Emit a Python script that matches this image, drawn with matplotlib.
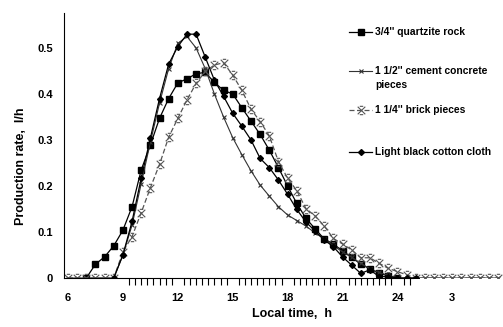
#!/usr/bin/env python3
# production rate of the solar still for different energy storing materials
import numpy as np
import matplotlib.pyplot as plt
from matplotlib.path import Path
from matplotlib.lines import Line2D

plt.rcParams['font.family'] = ['Liberation Sans', 'DejaVu Sans']
plt.rcParams['font.weight'] = 'bold'

# hours of the day, 27 = 3 am next day
t_full = [6 + 0.5 * k for k in range(48)]

# 3/4" quartzite rock, from 7 h to 24 h
t_quartz = t_full[2:37]
quartz = [0, 0.03, 0.046, 0.07, 0.104, 0.155, 0.235, 0.289, 0.347, 0.39,
          0.424, 0.433, 0.444, 0.447, 0.425, 0.408, 0.4, 0.37, 0.341, 0.312,
          0.278, 0.24, 0.2, 0.162, 0.13, 0.107, 0.085, 0.074, 0.059, 0.045,
          0.03, 0.02, 0.01, 0.005, 0]

# 1 1/2" cement concrete pieces, 6 h to 5:30 h
cement = [0, 0, 0, 0, 0, 0, 0.05, 0.115, 0.205, 0.295,
          0.38, 0.455, 0.51, 0.525, 0.5, 0.455, 0.4, 0.35, 0.305, 0.268,
          0.233, 0.202, 0.178, 0.155, 0.137, 0.125, 0.113, 0.098, 0.085, 0.07,
          0.057, 0.045, 0.032, 0.02, 0.012, 0.006, 0, 0, 0, 0,
          0, 0, 0, 0, 0, 0, 0, 0]

# 1 1/4" brick pieces
brick = [0, 0, 0, 0, 0, 0, 0.057, 0.09, 0.142, 0.196,
         0.247, 0.306, 0.347, 0.387, 0.423, 0.449, 0.463, 0.468, 0.441, 0.408,
         0.367, 0.34, 0.309, 0.253, 0.217, 0.19, 0.151, 0.135, 0.113, 0.086,
         0.074, 0.061, 0.044, 0.044, 0.032, 0.021, 0.014, 0.007, 0, 0,
         0, 0, 0, 0, 0, 0, 0, 0]

# light black cotton cloth, 8:30 h to 25 h
t_cloth = t_full[5:39]
cloth = [0, 0.05, 0.123, 0.217, 0.304, 0.39, 0.465, 0.503, 0.53, 0.53,
         0.48, 0.43, 0.395, 0.358, 0.33, 0.3, 0.26, 0.24, 0.213, 0.182,
         0.149, 0.122, 0.102, 0.083, 0.068, 0.046, 0.028, 0.01, 0.018, 0.003,
         0.003, 0, 0, 0]

labels = ["3/4'' quartzite rock", "1 1/2'' cement concrete\npieces",
          "1 1/4'' brick pieces", "Light black cotton cloth"]
xtick_pos = [6, 9, 12, 15, 18, 21, 24, 27]
xtick_lab = ['6', '9', '12', '15', '18', '21', '24', '3']
ytick_pos = [0, 0.1, 0.2, 0.3, 0.4, 0.5]
ytick_lab = ['0', '0.1', '0.2', '0.3', '0.4', '0.5']

# x with short bars above and below, like the excel star marker
star = Path([(-1, -1), (1, 1), (-1, 1), (1, -1), (-0.45, 1.1), (0.45, 1.1), (-0.45, -1.1), (0.45, -1.1)],
            [Path.MOVETO, Path.LINETO, Path.MOVETO, Path.LINETO,
             Path.MOVETO, Path.LINETO, Path.MOVETO, Path.LINETO])

fig = plt.figure(figsize=(5.03, 3.27), dpi=100)
ax = fig.add_axes([0.1272, 0.1498, 0.8728, 0.8104])

styles = [
    dict(color='black', lw=0.9, marker='s', ms=3.8, mfc='black', mec='black'),
    dict(color='#333333', lw=0.8, marker='x', ms=3.5, mew=0.8),
    dict(color='#555555', lw=0.9, ls=(0, (4, 2)), marker=star, ms=6, mew=0.8, mfc='none'),
    dict(color='black', lw=0.9, marker='D', ms=3.0, mfc='black', mec='black'),
]
ax.plot(t_quartz, quartz, **styles[0])
ax.plot(t_full, cement, **styles[1])
ax.plot(t_full, brick, **styles[2])
ax.plot(t_cloth, cloth, **styles[3])

ax.set_xlim(5.78, 29.77)
ax.set_ylim(0, 0.576)
ax.spines['top'].set_visible(False)
ax.spines['right'].set_visible(False)
ax.spines['bottom'].set_bounds(5.78, 24.85)
ax.set_xticks(xtick_pos)
ax.set_xticklabels(xtick_lab, fontsize=8, fontweight='bold')
ax.set_xticks(np.arange(9, 24.8, 1 / 3), minor=True)
ax.tick_params(axis='x', which='major', length=0, pad=11)
ax.tick_params(axis='x', which='minor', length=5, direction='out', width=0.8)
ax.set_yticks(ytick_pos)
ax.set_yticklabels(ytick_lab, fontsize=8, fontweight='bold')
ax.tick_params(axis='y', length=0, pad=8)

ax.set_xlabel('Local time,  h', fontsize=9, fontweight='bold')
ax.xaxis.set_label_coords(0.52, -0.115)
ax.set_ylabel('Production rate,  l/h', fontsize=9, fontweight='bold')
ax.yaxis.set_label_coords(-0.085, 0.42)

# legend drawn by hand so the marker sits on the first text line
W, H = 503.0, 327.0
leg_y = [32, 71, 110, 152]
for st, lab, yp in zip(styles, labels, leg_y):
    yf = 1 - yp / H
    ls = st.get('ls', '-')
    fig.add_artist(Line2D([349 / W, 372 / W], [yf, yf], color=st['color'], lw=st['lw'], ls=ls))
    mk = {k: v for k, v in st.items() if k not in ('lw', 'ls')}
    fig.add_artist(Line2D([360.5 / W], [yf], ls='none', **mk))
    for n, line in enumerate(lab.split('\n')):
        fig.text(375 / W, yf - n * 14 / H, line, fontsize=7.4, fontweight='bold', va='center')

plt.savefig('out.png', dpi=100)
